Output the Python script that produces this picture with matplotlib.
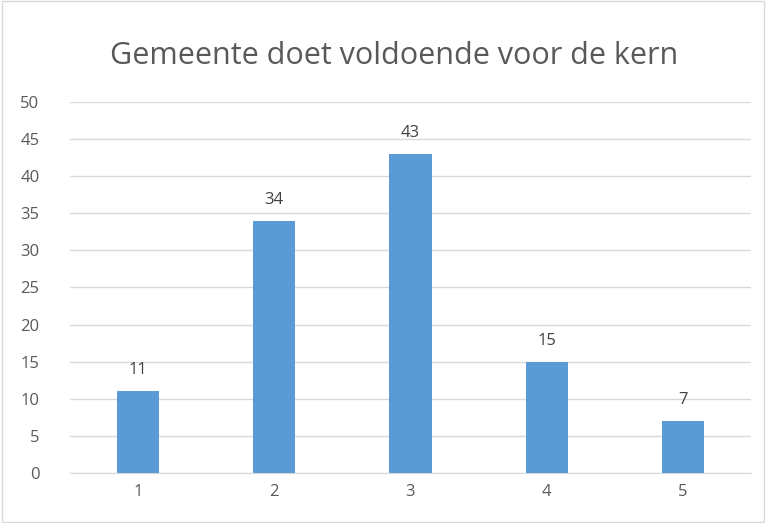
import matplotlib
matplotlib.use("Agg")
import matplotlib.pyplot as plt
from matplotlib.patches import Rectangle

categories = ["1", "2", "3", "4", "5"]
values = [11, 34, 43, 15, 7]
yticks = [0, 5, 10, 15, 20, 25, 30, 35, 40, 45, 50]
title = "Gemeente doet voldoende voor de kern"

plt.rcParams['font.family'] = ['Open Sans', 'DejaVu Sans']
text_color = "#595959"
grid_color = "#D9D9D9"
bar_color = "#5B9BD5"

fig = plt.figure(figsize=(7.66, 5.23), dpi=100)
ax = fig.add_axes([0.0914, 0.0956, 0.8890, 0.7094])

x = list(range(1, len(categories) + 1))
bars = ax.bar(x, values, width=0.31, color=bar_color, zorder=3)
for xi, v in zip(x, values):
    ax.annotate(str(v), (xi, v), xytext=(0, 9.5), textcoords="offset points",
                ha="center", va="bottom", fontsize=12, color="#404040")

ax.set_xlim(0.5, 5.5)
ax.set_ylim(0, 50)
ax.set_yticks(yticks)
ax.set_xticks(x)
ax.set_xticklabels(categories)
ax.tick_params(axis="both", length=0, labelsize=12, colors=text_color)
ax.tick_params(axis="y", pad=22)
ax.tick_params(axis="x", pad=8)
ax.grid(axis="y", color=grid_color, linewidth=1, zorder=0)
for s in ["left", "right", "top"]:
    ax.spines[s].set_visible(False)
ax.spines["bottom"].set_color(grid_color)

fig.text(0.514, 0.893, title, ha="center", va="center", fontsize=22, color=text_color)
fig.patches.append(Rectangle((0.002, 0.002), 0.996, 0.996, transform=fig.transFigure,
                             fill=False, edgecolor=grid_color, linewidth=1))

fig.savefig("out.png", dpi=100)
